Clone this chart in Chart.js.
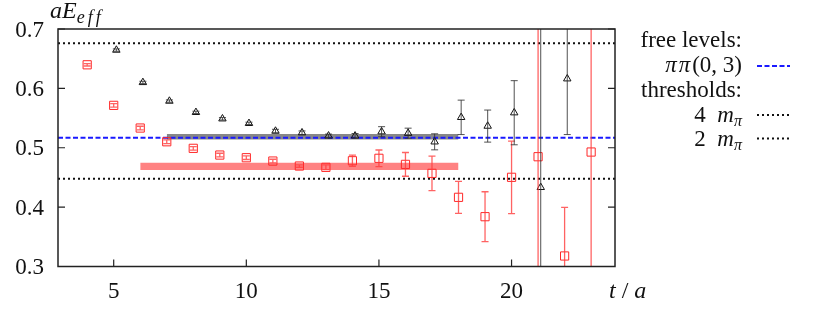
<!DOCTYPE html>
<html>
<head>
<meta charset="utf-8">
<script src="https://cdn.jsdelivr.net/npm/chart.js@4/dist/chart.umd.min.js"></script>
<style>
  body { margin: 0; background: #fff; }
  #wrap { width: 821px; height: 316px; }
</style>
</head>
<body>
<div id="wrap"><canvas id="myChart" width="821" height="316"></canvas></div>
<script>
// black triangles (shifted by +0.1 in t)
const tBlack   = [5.1, 6.1, 7.1, 8.1, 9.1, 10.1, 11.1, 12.1, 13.1, 14.1, 15.1, 16.1, 17.1, 18.1, 19.1, 20.1, 21.1, 22.1];
const eBlack   = [0.6645, 0.610, 0.5786, 0.5596, 0.5488, 0.5411, 0.5281, 0.5253, 0.520, 0.520, 0.527, 0.5245, 0.510, 0.5512, 0.5365, 0.559, 0.4333, 0.6162];
const errBlack = [0.002, 0.002, 0.002, 0.002, 0.002, 0.002, 0.003, 0.003, 0.003, 0.004, 0.0085, 0.0085, 0.0135, 0.029, 0.027, 0.054, 0.6, 0.094];
// red squares
const tRed   = [4, 5, 6, 7, 8, 9, 10, 11, 12, 13, 14, 15, 16, 17, 18, 19, 20, 21, 22, 23];
const eRed   = [0.6397, 0.5714, 0.5332, 0.5101, 0.499, 0.4877, 0.4832, 0.4776, 0.4692, 0.467, 0.4781, 0.4822, 0.472, 0.4569, 0.4165, 0.3839, 0.4502, 0.4849, 0.3177, 0.4928];
const errRed = [0.002, 0.003, 0.003, 0.003, 0.003, 0.003, 0.003, 0.003, 0.002, 0.004, 0.0095, 0.014, 0.02, 0.029, 0.027, 0.042, 0.061, 0.6, 0.082, 0.6];
// fit bands [tStart, tEnd], [low, high]
const bandGrayT = [7, 18];
const bandGrayE = [0.5137, 0.5232];
const bandRedT  = [6, 18];
const bandRedE  = [0.4625, 0.4748];
// horizontal levels
const levelPiPi = 0.5168;
const level4m   = 0.6758;
const level2m   = 0.4478;
// axes
const xRange = [2.9, 23.9];
const yRange = [0.3, 0.7];
const xTicks = [5, 10, 15, 20];
const yTicks = [0.3, 0.4, 0.5, 0.6, 0.7];

const pts = (xs, ys) => xs.map((x, i) => ({x: x, y: ys[i]}));
const hline = v => [{x: xRange[0], y: v}, {x: xRange[1], y: v}];
const band = (ts, v) => [{x: ts[0], y: v}, {x: ts[1], y: v}];

const serif = '"Liberation Serif", "DejaVu Serif", serif';

function runs(ctx, x, y, parts, align) {
  // parts: [text, fontSize, italic, dy, letterSpacing]
  const w = p => {
    ctx.font = (p[2] ? 'italic ' : '') + p[1] + 'px ' + serif;
    return ctx.measureText(p[0]).width + (p[4] || 0) * p[0].length;
  };
  let total = 0;
  parts.forEach(p => { total += w(p); });
  let cx = align === 'right' ? x - total : x;
  parts.forEach(p => {
    ctx.font = (p[2] ? 'italic ' : '') + p[1] + 'px ' + serif;
    if (p[4]) {
      for (const ch of p[0]) {
        ctx.fillText(ch, cx, y + (p[3] || 0));
        cx += ctx.measureText(ch).width + p[4];
      }
    } else {
      ctx.fillText(p[0], cx, y + (p[3] || 0));
      cx += ctx.measureText(p[0]).width;
    }
  });
}

const decor = {
  id: 'decor',
  afterDatasetsDraw(chart) {
    const ctx = chart.ctx;
    const a = chart.chartArea;
    const xs = chart.scales.x, ys = chart.scales.y;

    // error bars
    ctx.save();
    ctx.beginPath();
    ctx.rect(a.left, a.top, a.right - a.left, a.bottom - a.top);
    ctx.clip();
    const bars = (ts, es, errs, color, w) => {
      ctx.strokeStyle = color;
      ctx.lineWidth = w;
      ts.forEach((t, i) => {
        const px = xs.getPixelForValue(t);
        const y1 = ys.getPixelForValue(es[i] + errs[i]);
        const y2 = ys.getPixelForValue(es[i] - errs[i]);
        ctx.beginPath();
        ctx.moveTo(px, y1); ctx.lineTo(px, y2);
        ctx.moveTo(px - 3.5, y1); ctx.lineTo(px + 3.5, y1);
        ctx.moveTo(px - 3.5, y2); ctx.lineTo(px + 3.5, y2);
        ctx.stroke();
      });
    };
    bars(tRed, eRed, errRed, 'rgba(255,60,60,0.8)', 1.3);
    bars(tBlack, eBlack, errBlack, 'rgba(50,50,50,0.85)', 1);
    ctx.restore();

    // frame and inward ticks
    ctx.save();
    ctx.strokeStyle = '#222';
    ctx.lineWidth = 1.5;
    ctx.strokeRect(a.left, a.top, a.right - a.left, a.bottom - a.top);
    ctx.lineWidth = 1.2;
    ctx.beginPath();
    xTicks.forEach(v => {
      const px = xs.getPixelForValue(v);
      ctx.moveTo(px, a.bottom); ctx.lineTo(px, a.bottom - 7);
    });
    yTicks.forEach(v => {
      const py = ys.getPixelForValue(v);
      ctx.moveTo(a.left, py); ctx.lineTo(a.left + 7, py);
      ctx.moveTo(a.right, py); ctx.lineTo(a.right - 7, py);
    });
    ctx.stroke();

    // tick labels
    ctx.fillStyle = '#111';
    ctx.font = '23px ' + serif;
    ctx.textBaseline = 'alphabetic';
    ctx.textAlign = 'right';
    yTicks.forEach(v => {
      ctx.fillText(v.toFixed(1), 44, ys.getPixelForValue(v) + 7.5);
    });
    ctx.textAlign = 'center';
    xTicks.forEach(v => {
      ctx.fillText(String(v), xs.getPixelForValue(v), 298);
    });

    // axis titles
    ctx.textAlign = 'left';
    runs(ctx, 609, 298, [['t', 24, true], [' / ', 24, false], ['a', 24, true]]);
    runs(ctx, 50, 18, [['a', 24, true], ['E', 24, true], ['eff', 18, true, 5, 3]]);

    // legend
    const lx = 742;
    runs(ctx, lx, 47, [['free levels:', 23, false]], 'right');
    runs(ctx, lx, 72, [['ππ', 23, true, 0, 2], ['(0, 3)', 23, false]], 'right');
    runs(ctx, lx, 97, [['thresholds:', 23, false]], 'right');
    runs(ctx, lx, 121.5, [['4  ', 23, false], ['m', 23, true], ['π', 16, true, 4]], 'right');
    runs(ctx, lx, 145.5, [['2  ', 23, false], ['m', 23, true], ['π', 16, true, 4]], 'right');

    ctx.lineWidth = 2;
    ctx.strokeStyle = '#1a1aff';
    ctx.setLineDash([5, 2.5]);
    ctx.beginPath(); ctx.moveTo(757, 66); ctx.lineTo(790, 66); ctx.stroke();
    ctx.strokeStyle = '#111';
    ctx.setLineDash([2, 3]);
    ctx.beginPath(); ctx.moveTo(757, 115); ctx.lineTo(790, 115); ctx.stroke();
    ctx.beginPath(); ctx.moveTo(757, 138.5); ctx.lineTo(790, 138.5); ctx.stroke();
    ctx.restore();
  }
};

const ctx = document.getElementById('myChart').getContext('2d');
const myChart = new Chart(ctx, {
  type: 'scatter',
  data: {
    datasets: [
      {
        label: 'black',
        data: pts(tBlack, eBlack),
        pointStyle: 'triangle',
        pointRadius: 4.3,
        borderColor: '#111',
        backgroundColor: 'rgba(0,0,0,0)',
        borderWidth: 1
      },
      {
        label: 'red',
        data: pts(tRed, eRed),
        pointStyle: 'rect',
        pointRadius: 5.8,
        borderColor: 'rgb(255,40,40)',
        backgroundColor: 'rgba(0,0,0,0)',
        borderWidth: 1
      },
      {
        label: 'pipi',
        data: hline(levelPiPi),
        showLine: true, pointRadius: 0,
        borderColor: '#1a1aff', borderWidth: 2, borderDash: [5, 2.5]
      },
      {
        label: '4m',
        data: hline(level4m),
        showLine: true, pointRadius: 0,
        borderColor: '#111', borderWidth: 2, borderDash: [2, 3]
      },
      {
        label: '2m',
        data: hline(level2m),
        showLine: true, pointRadius: 0,
        borderColor: '#111', borderWidth: 2, borderDash: [2, 3]
      },
      {
        label: 'grayHi',
        data: band(bandGrayT, bandGrayE[1]),
        showLine: true, pointRadius: 0, borderWidth: 0,
        borderColor: 'rgba(0,0,0,0)'
      },
      {
        label: 'grayLo',
        data: band(bandGrayT, bandGrayE[0]),
        showLine: true, pointRadius: 0, borderWidth: 0,
        borderColor: 'rgba(0,0,0,0)',
        backgroundColor: 'rgb(135,135,135)',
        fill: '-1'
      },
      {
        label: 'redHi',
        data: band(bandRedT, bandRedE[1]),
        showLine: true, pointRadius: 0, borderWidth: 0,
        borderColor: 'rgba(0,0,0,0)'
      },
      {
        label: 'redLo',
        data: band(bandRedT, bandRedE[0]),
        showLine: true, pointRadius: 0, borderWidth: 0,
        borderColor: 'rgba(0,0,0,0)',
        backgroundColor: 'rgb(255,130,130)',
        fill: '-1'
      }
    ]
  },
  options: {
    responsive: false,
    animation: false,
    layout: { padding: { left: 58, top: 29, right: 206, bottom: 49.5 } },
    plugins: { legend: { display: false }, tooltip: { enabled: false } },
    scales: {
      x: { type: 'linear', min: xRange[0], max: xRange[1], display: false },
      y: { type: 'linear', min: yRange[0], max: yRange[1], display: false }
    }
  },
  plugins: [decor]
});
</script>
</body>
</html>
